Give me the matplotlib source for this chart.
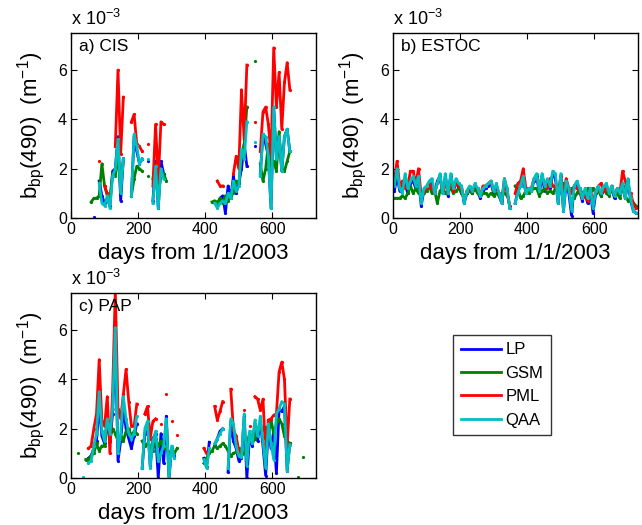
import numpy as np
import matplotlib
matplotlib.use('Agg')
import matplotlib.pyplot as plt
from matplotlib.ticker import FuncFormatter

N = np.nan
# 8-day composites, days from 1/1/2003
days = np.arange(4, 730, 8)

# values in units of 1e-3 m^-1
# ---------------- a) CIS ----------------
cis_lp = [N, N, N, N, N, N, N, N, 0.05, N,
          1.5, 0.9, 0.6, 0.8, 0.5, 1.9, 2.0, 3.3, 0.7, 2.4,
          N, N, 0.9, 3.3, 2.7, 2.2, 2.4, N, 2.3, N,
          0.7, 2.3, 0.4, 2.3, 1.8, N, N, N, N, N,
          N, N, N, N, N, N, N, N, N, N,
          N, N, N, 0.6, 0.5, 0.8, 0.9, 0.2, 1.3, 0.8,
          1.7, 1.0, 1.4, 2.0, 3.0, 2.1, N, N, 2.9, N,
          1.8, 3.4, 3.0, 2.5, 0.4, 4.5, 2.4, 3.3, 1.9, 3.3,
          3.6, 2.7, N, N, N, N, N, N, N, N,
          N]
cis_gsm = [N, N, N, N, N, N, N, 0.65, 0.8, 0.8,
           0.9, 2.2, 1.3, 0.9, 0.8, 1.8, 1.7, 2.5, 1.2, 2.4,
           N, N, 0.9, 1.6, 2.1, 2.0, 1.9, N, 1.7, N,
           1.6, 2.2, 1.0, 1.7, 1.8, 1.5, N, N, N, N,
           N, N, N, N, N, N, N, N, N, N,
           N, N, 0.65, 0.7, 0.6, 0.8, 0.6, 0.9, 0.7, 0.9,
           1.0, 1.5, 1.4, 2.5, 3.0, 4.5, N, N, 6.35, N,
           2.2, 1.5, 2.0, 3.0, 2.1, 2.3, 1.9, 3.5, 2.0, 1.9,
           2.3, 2.7, N, N, N, N, N, N, N, N,
           N]
cis_pml = [N, N, N, N, N, N, N, N, N, N,
           2.3, N, 1.3, 1.0, N, N, 2.9, 6.0, 2.6, 4.9,
           N, N, 3.9, 4.2, 3.0, 2.9, 2.7, N, 3.0, N,
           1.3, 3.8, 1.5, 3.9, 3.8, N, N, N, N, N,
           N, N, N, N, N, N, N, N, N, N,
           N, N, N, N, 1.5, 1.3, 1.3, N, N, N,
           1.8, 2.5, 2.0, 5.2, 3.2, 6.2, N, N, 3.9, N,
           2.7, 4.3, 4.5, 3.8, 2.5, 6.9, 4.5, 5.9, 3.6, 5.5,
           6.3, 5.2, N, N, N, N, N, N, N, N,
           N]
cis_qaa = [N, N, N, N, N, N, N, N, N, N,
           1.4, 0.6, 0.5, 0.9, 0.4, 1.7, 2.0, 3.2, 1.0, 2.4,
           N, N, 0.9, 3.4, 2.9, 2.2, 2.4, N, 2.4, N,
           0.6, 2.1, 0.4, 2.0, 1.6, N, N, N, N, N,
           N, N, N, N, N, N, N, N, N, N,
           N, N, N, 0.6, 0.4, 0.6, 0.7, 0.6, 1.0, 0.8,
           1.5, 1.1, 1.3, 2.8, 2.4, 3.9, N, N, 3.1, N,
           1.7, 3.4, 3.3, 2.5, 0.4, 4.5, 2.4, 3.3, 1.9, 3.3,
           3.6, 2.7, N, N, N, N, N, N, N, N,
           N]

# ---------------- b) ESTOC ----------------
estoc_lp = [1.1, 1.7, 1.1, 1.3, 1.4, 1.0, 1.4, 1.5, 1.2, 1.6,
            0.5, 1.1, 1.2, 1.3, 1.4, 1.0, 1.5, 1.7, 1.0, 1.7,
            0.9, 1.7, 1.2, 1.5, 1.2, 1.3, 0.6, 1.0, 1.2, 1.0,
            1.3, 1.1, 0.8, 1.1, 1.2, 1.3, 1.4, 1.0, 1.3, 0.9,
            0.6, 1.5, 1.1, 0.4, N, 0.6, 1.1, 1.3, 1.6, 1.0,
            1.2, 1.1, 1.5, 1.7, 1.0, 1.7, 1.1, 1.5, 1.2, 1.8,
            1.6, 0.6, 1.7, 0.3, 1.4, 1.0, 0.1, 1.3, 1.4, 1.1,
            0.7, 1.0, 0.6, 1.1, 0.2, 1.0, 1.2, 0.9, 1.1, 1.3,
            1.0, 1.2, 0.8, 1.1, 1.0, 1.3, 0.8, 1.5, 0.7, 0.3,
            0.2]
estoc_gsm = [0.8, 0.8, 0.8, 0.9, 0.8, 1.0, 1.3, 1.0, 1.2, 1.0,
             1.1, 1.0, 1.1, 1.3, 1.0, 1.1, 0.6, 1.1, 1.2, 1.0,
             1.1, 1.2, 1.0, 1.1, 1.2, 1.0, 0.8, 1.0, 1.1, 1.0,
             1.2, 1.0, 0.9, 1.0, 1.0, 0.9, 1.0, 0.9, 1.0, 0.9,
             1.0, 1.0, 0.9, N, N, 1.3, 1.2, 0.8, 0.9, 1.1,
             1.0, 1.1, 1.2, 1.2, 0.9, 1.1, 1.2, 1.0, 1.1, 1.0,
             1.2, 1.1, 1.2, 1.4, 1.2, 1.1, 1.2, 0.8, 1.0, 1.2,
             1.0, 0.9, 1.2, 1.0, 1.2, 1.0, 1.1, 0.9, 1.2, 1.0,
             0.9, 1.2, 0.9, 1.0, 0.8, 1.3, 0.9, 0.7, 0.8, 0.6,
             0.5]
estoc_pml = [1.5, 2.3, 1.3, 1.5, 1.2, 1.3, 1.9, 1.9, 1.4, 2.0,
             0.9, 1.1, 1.2, 1.4, 1.2, 1.0, 1.4, 1.6, 1.1, 1.5,
             1.0, 1.6, 1.1, 1.4, 1.3, 1.2, 0.7, 1.1, 1.2, 1.1,
             1.3, 1.2, 0.9, 1.3, 1.3, 1.4, 1.5, 1.1, 1.3, 1.0,
             0.7, 1.6, 1.0, 0.5, N, 1.0, 1.4, 1.5, 2.0, 1.2,
             1.2, 1.2, 1.6, 1.6, 1.3, 1.7, 1.4, 1.2, 1.6, 1.3,
             1.3, 1.0, 1.7, 0.9, 1.6, 1.2, 1.0, 1.3, 1.2, 1.1,
             0.8, 0.9, 0.7, 1.2, 0.6, 1.1, 1.3, 1.4, 1.1, 1.3,
             1.0, 1.3, 0.9, 1.2, 1.0, 1.9, 1.5, 1.2, 1.0, 0.6,
             0.4]
estoc_qaa = [1.3, 2.0, 1.2, 1.0, 1.8, 1.2, 1.5, 1.7, 1.3, 1.7,
             0.6, 1.2, 1.3, 1.5, 1.6, 1.0, 1.4, 1.8, 1.0, 1.8,
             1.0, 1.8, 1.2, 1.6, 1.4, 1.3, 0.6, 1.1, 1.3, 1.1,
             1.4, 1.2, 0.9, 1.2, 1.3, 1.4, 1.5, 1.1, 1.4, 1.0,
             0.6, 1.6, 1.2, 0.4, N, 0.6, 1.0, 1.3, 1.7, 1.0,
             1.2, 1.1, 1.6, 1.8, 1.1, 1.8, 1.3, 1.6, 1.3, 1.9,
             1.8, 0.6, 1.8, 0.3, 1.5, 1.2, 0.3, 1.3, 1.5, 1.2,
             0.8, 1.2, 0.8, 1.2, 0.4, 1.1, 1.3, 1.0, 1.3, 1.4,
             1.0, 1.3, 0.9, 1.2, 1.0, 1.4, 0.8, 1.6, 0.8, 0.3,
             0.2]

# ---------------- c) PAP ----------------
pap_lp = [N, N, N, N, N, N, 0.8, 0.9, 1.2, 1.5,
          3.0, 1.7, 1.4, 2.3, 1.5, 2.6, 5.8, 0.7, 1.5, 2.8,
          2.0, 1.6, 1.2, 1.7, 2.2, N, 0.4, 1.8, 2.2, 0.5,
          1.6, 1.8, 0.0, 1.8, 0.6, 2.5, 0.0, 1.2, 0.9, N,
          N, N, N, N, N, N, N, N, N, 0.8,
          0.45, 1.45, N, 1.3, 1.6, 1.9, 2.0, N, 0.25, 2.3,
          1.5, 1.2, 0.7, 0.8, 2.5, 0.0, 1.7, 1.3, 2.2, 1.5,
          2.3, 1.3, 0.1, 2.0, 1.2, 1.9, 0.2, 2.8, 2.7, 2.9,
          0.3, 1.4, N, N, N, N, N, N, N, N,
          N]
pap_gsm = [N, N, 1.0, N, N, 0.75, 0.75, 0.9, 1.0, 1.4,
           1.1, 1.3, 1.3, 2.5, 1.6, 2.0, 1.8, 1.5, 1.7, 1.5,
           1.9, 2.0, 1.7, 1.9, 1.8, N, 1.5, 1.3, 1.4, 1.3,
           1.1, 1.6, 1.3, 1.5, 1.2, 1.3, 0.9, 1.2, 1.0, 1.2,
           N, N, N, N, N, N, N, N, N, 0.6,
           0.8, 1.0, 1.1, 1.3, 1.2, 1.3, 1.4, 1.3, 1.1, 0.9,
           1.0, 1.05, 1.2, 0.9, 1.0, 1.4, 1.8, 1.4, 1.6, 2.05,
           2.0, 1.95, 2.05, 1.7, 2.35, 1.8, 2.2, 2.4, 2.2, 1.7,
           1.5, 1.4, N, N, 0.05, N, 0.85, N, N, N,
           N]
pap_pml = [N, N, N, N, N, N, 1.2, 1.3, 2.0, 2.6,
           4.8, 2.3, 2.1, 3.3, 1.0, 3.5, 7.6, 2.8, 2.4, 3.4,
           4.4, 3.1, 2.1, 2.1, 3.0, N, N, 2.6, 2.9, 1.6,
           2.3, 2.4, N, 2.2, N, 3.4, N, 2.3, N, 1.75,
           N, N, N, N, N, N, N, N, N, 1.2,
           1.0, N, N, 2.9, 2.35, 2.7, 3.1, N, N, 3.6,
           1.95, 1.7, 1.1, N, 2.75, N, 2.1, N, 3.3, 3.2,
           2.75, 3.2, 1.0, 2.35, 2.4, 2.55, 2.6, 4.3, 4.7, 4.0,
           1.3, 3.2, N, N, N, N, N, N, N, N,
           N]
pap_qaa = [N, N, N, N, 0.05, N, 0.6, 0.7, 1.3, 1.8,
           3.5, 1.9, 1.5, 2.4, 1.8, 2.8, 6.1, 1.0, 1.8, 3.3,
           2.4, 1.8, 1.6, 1.8, 2.5, N, 0.4, 2.0, 2.3, 0.4,
           1.5, 1.9, 0.7, 1.0, 1.3, 2.4, 0.0, 1.3, 0.8, N,
           N, N, N, N, N, N, N, N, N, 0.75,
           0.4, 1.2, N, 1.4, 1.6, 1.8, 2.0, N, 0.4, 2.4,
           2.2, 1.3, 0.9, 0.85, 2.6, 0.5, 1.9, 1.4, 2.35, 1.7,
           2.5, 1.5, 0.4, 2.2, 1.4, 0.75, 2.6, 2.8, 3.1, 3.0,
           0.3, 1.35, N, N, N, N, N, N, N, N,
           N]

series_names = ['LP', 'GSM', 'PML', 'QAA']
colors = [(0, 0, 1), (0, 0.5, 0), (1, 0, 0), (0, 0.75, 0.75)]
panel_labels = ['a) CIS', 'b) ESTOC', 'c) PAP']
xticks = [0, 200, 400, 600]
yticks = [0, 2e-3, 4e-3, 6e-3]

plt.rcParams['font.family'] = ['Liberation Sans', 'DejaVu Sans']
plt.rcParams['mathtext.fontset'] = 'custom'
plt.rcParams['mathtext.rm'] = 'Liberation Sans'
plt.rcParams['mathtext.it'] = 'Liberation Sans:italic'
plt.rcParams['mathtext.bf'] = 'Liberation Sans:bold'

fig = plt.figure(figsize=(6.42, 5.25), dpi=100)
W, H = 642, 525
aw, ah = 245 / W, 185 / H
ax_a = fig.add_axes([71 / W, 1 - 218 / H, aw, ah])
ax_b = fig.add_axes([393 / W, 1 - 218 / H, aw, ah])
ax_c = fig.add_axes([71 / W, 1 - 478 / H, aw, ah])

panels = [
    (ax_a, [cis_lp, cis_gsm, cis_pml, cis_qaa], panel_labels[0]),
    (ax_b, [estoc_lp, estoc_gsm, estoc_pml, estoc_qaa], panel_labels[1]),
    (ax_c, [pap_lp, pap_gsm, pap_pml, pap_qaa], panel_labels[2]),
]

handles = []
for ax, data, lab in panels:
    hs = []
    for vals, name, col in zip(data, series_names, colors):
        h, = ax.plot(days, np.array(vals) * 1e-3, color=col, lw=2.0,
                     marker='o', ms=2.3, mew=0, label=name)
        hs.append(h)
    handles = hs
    ax.set_xlim(0, 730)
    ax.set_ylim(0, 7.5e-3)
    ax.set_xticks(xticks)
    ax.set_yticks(yticks)
    ax.yaxis.set_major_formatter(FuncFormatter(lambda v, p: f'{v * 1e3:g}'))
    ax.tick_params(direction='in', top=True, right=True, length=4,
                   width=0.8, labelsize=11.5, pad=3)
    for s in ax.spines.values():
        s.set_linewidth(1.0)
    ax.set_xlabel('days from 1/1/2003', fontsize=16, labelpad=4)
    ax.set_ylabel(r'b$_{\mathrm{bp}}$(490)  (m$^{-1}$)', fontsize=16, labelpad=8)
    ax.text(0.0, 1.02, r'x 10$^{-3}$', transform=ax.transAxes,
            fontsize=13, va='bottom', ha='left')
    ax.text(0.033, 0.97, lab, transform=ax.transAxes, fontsize=12.5,
            va='top', ha='left')

leg = fig.legend(handles, series_names, loc='upper left',
                 bbox_to_anchor=(453 / W, 1 - 335 / H), borderaxespad=0,
                 frameon=True, fancybox=False, edgecolor='black',
                 fontsize=12, handlelength=2.4, handletextpad=0.3,
                 borderpad=0.45, labelspacing=0.5)
leg.get_frame().set_linewidth(1.0)
for lh in leg.get_lines():
    lh.set_marker('')

fig.savefig('out.png', dpi=100)
